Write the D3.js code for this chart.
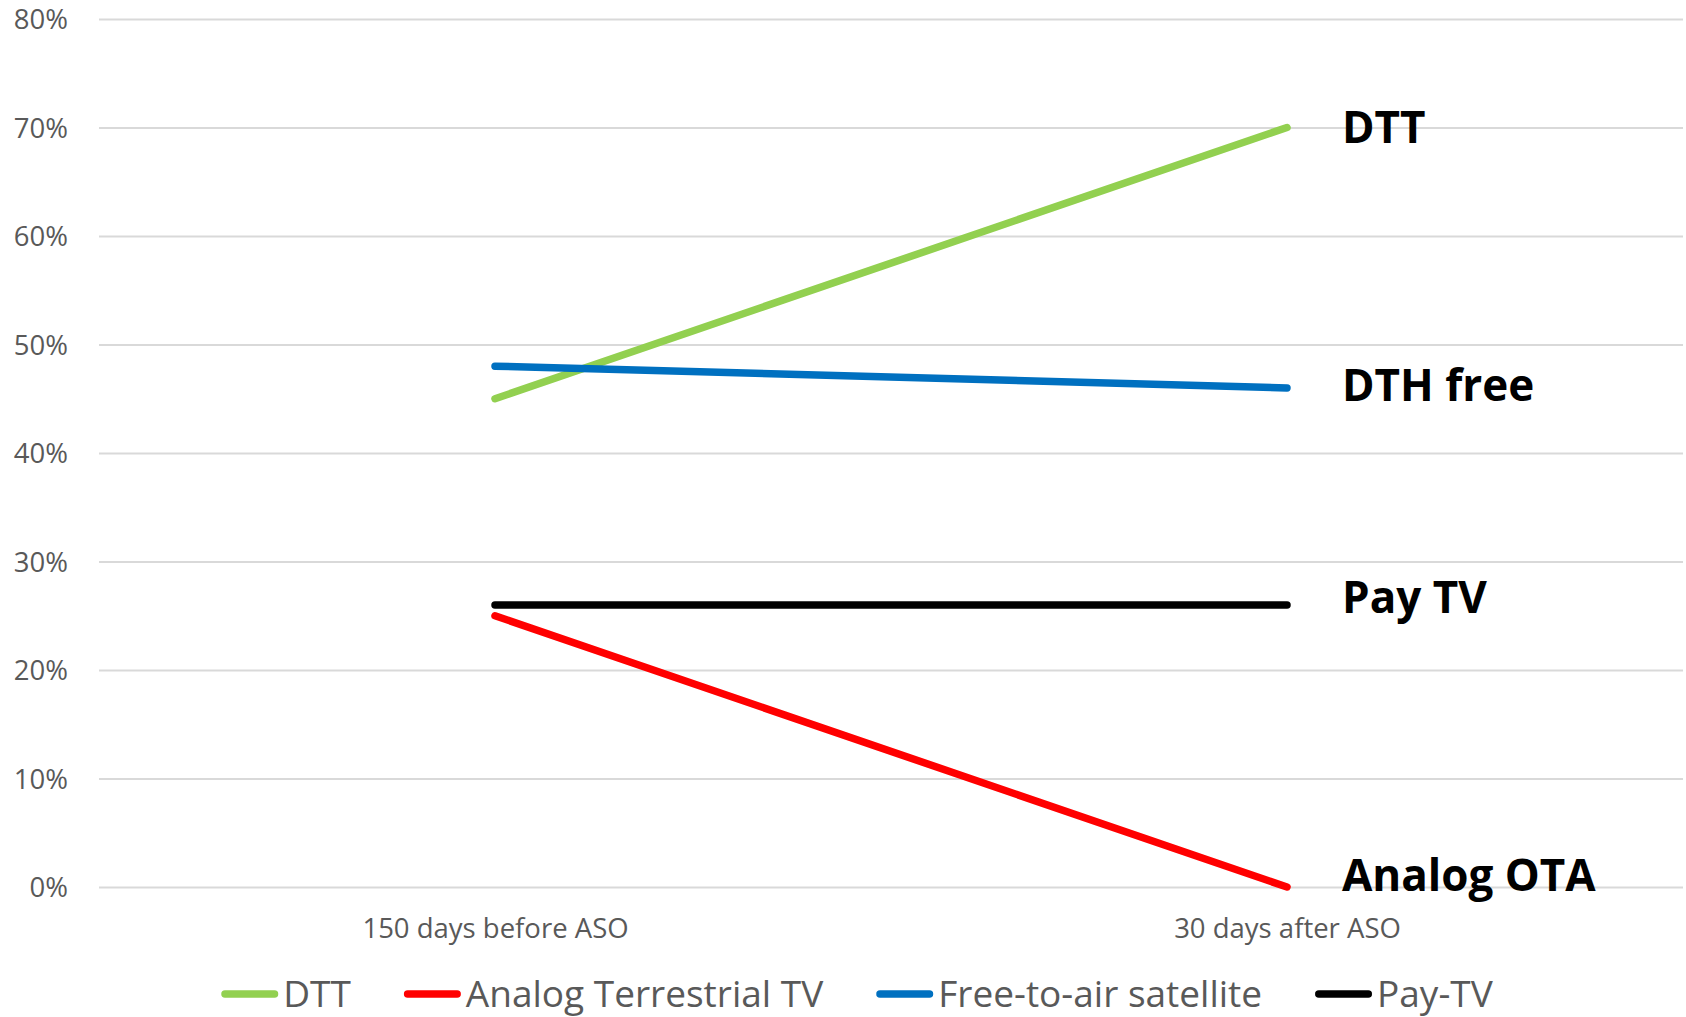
<!DOCTYPE html>
<html>
<head>
<meta charset="utf-8">
<script src="https://cdn.jsdelivr.net/npm/d3@7"></script>
<style>
  html, body { margin: 0; padding: 0; background: #fff; }
  svg { display: block; }
  text { font-family: "Open Sans", "Noto Sans", sans-serif; }
</style>
</head>
<body>
<svg id="chart" width="1686" height="1017"></svg>
<script>
// ---- Data ----
const categories = ["150 days before ASO", "30 days after ASO"];
const seriesNames = ["DTT", "Analog Terrestrial TV", "Free-to-air satellite", "Pay-TV"];
const dttValues = [0.45, 0.70];
const analogValues = [0.25, 0.00];
const satelliteValues = [0.48, 0.46];
const payTvValues = [0.26, 0.26];
const endLabels = ["DTT", "Analog OTA", "DTH free", "Pay TV"];
const yTicks = [0, 0.1, 0.2, 0.3, 0.4, 0.5, 0.6, 0.7, 0.8];

// ---- Styles ----
const colors = ["#92D050", "#FF0000", "#0070C0", "#000000"];
const allValues = [dttValues, analogValues, satelliteValues, payTvValues];

const W = 1686, H = 1017;
const margin = { left: 99, right: 3, top: 19, bottom: 130 };
const svg = d3.select("#chart");

const x = d3.scalePoint()
  .domain(categories)
  .range([margin.left, W - margin.right])
  .padding(0.5);

const y = d3.scaleLinear()
  .domain([0, 0.8])
  .range([H - margin.bottom, margin.top]);

// Gridlines + y labels
const yAxis = d3.axisLeft(y)
  .tickValues(yTicks)
  .tickFormat(d3.format(".0%"))
  .tickSize(-(W - margin.right - margin.left))
  .tickPadding(31);

const gy = svg.append("g")
  .attr("transform", `translate(${margin.left},0)`)
  .call(yAxis);
gy.select(".domain").remove();
gy.selectAll(".tick line").attr("stroke", "#D9D9D9").attr("stroke-width", 1.8);
gy.selectAll(".tick text")
  .attr("fill", "#595959")
  .style("font-size", "27.5px")
  .attr("dy", "0.36em");

// x axis labels
const xAxis = d3.axisBottom(x).tickSize(0).tickPadding(31);
const gx = svg.append("g")
  .attr("transform", `translate(0,${y(0)})`)
  .call(xAxis);
gx.select(".domain").remove();
gx.selectAll(".tick text")
  .attr("fill", "#595959")
  .style("font-size", "27.5px");

// Lines
const line = d3.line()
  .x((d, i) => x(categories[i]))
  .y(d => y(d));

const order = [1, 3, 0, 2]; // draw order
order.forEach(k => {
  svg.append("path")
    .datum(allValues[k])
    .attr("d", line)
    .attr("fill", "none")
    .attr("stroke", colors[k])
    .attr("stroke-width", 7.5)
    .attr("stroke-linecap", "round")
    .attr("stroke-linejoin", "round");
});

// End labels
const labelNudge = [0, -12, -3, -8];
allValues.forEach((vals, k) => {
  svg.append("text")
    .attr("x", x(categories[1]) + 55)
    .attr("y", y(vals[1]) + labelNudge[k])
    .attr("dy", "0.36em")
    .attr("fill", "#000")
    .style("font-size", "44px")
    .style("font-weight", "bold")
    .text(endLabels[k]);
});

// Legend
const legend = svg.append("g");
const swatchW = 57, swatchGap = 5, itemGap = 53, legendY = 994;
const items = legend.selectAll("g.item")
  .data(seriesNames)
  .join("g")
  .attr("class", "item");
items.append("line")
  .attr("x1", 3.75).attr("x2", swatchW - 3.75)
  .attr("y1", 0).attr("y2", 0)
  .attr("stroke", (d, i) => colors[i])
  .attr("stroke-width", 7.5)
  .attr("stroke-linecap", "round");
items.append("text")
  .attr("x", swatchW + swatchGap)
  .attr("y", 13)
  .attr("fill", "#595959")
  .style("font-size", "37px")
  .text(d => d);

let widths = [];
items.each(function () {
  widths.push(swatchW + swatchGap + d3.select(this).select("text").node().getComputedTextLength());
});
const total = d3.sum(widths) + itemGap * (widths.length - 1);
let cx = 857 - total / 2;
items.attr("transform", (d, i) => {
  const t = `translate(${cx},${legendY})`;
  cx += widths[i] + itemGap;
  return t;
});
</script>
</body>
</html>
